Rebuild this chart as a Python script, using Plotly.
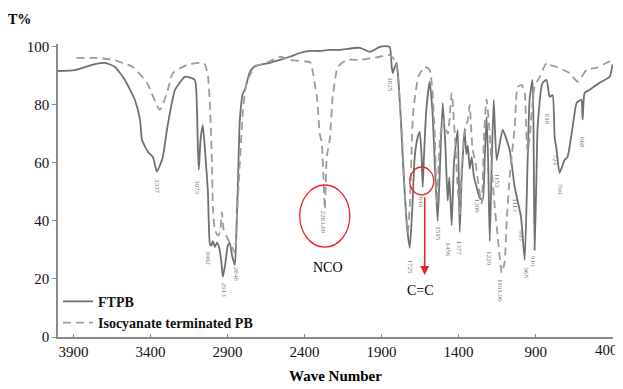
import plotly.graph_objects as go

# ---------------- data (wavenumber cm-1, transmittance %) ----------------
ftpb_wn = [4000, 3890, 3760, 3695, 3630, 3566, 3501, 3468, 3455, 3416, 3384, 3358, 3320, 3293, 3261,
           3241, 3176, 3112, 3099, 3092, 3086, 3075, 3060, 3040, 3027, 3014, 3005, 2995, 2982, 2969,
           2955, 2940, 2930, 2915, 2898, 2885, 2870, 2852, 2840, 2833, 2820, 2800, 2787, 2755, 2722,
           2690, 2625, 2560, 2495, 2431, 2366, 2301, 2236, 2171, 2042, 1977, 1912, 1879, 1847, 1834,
           1827, 1815, 1802, 1790, 1775, 1763, 1750, 1735, 1717, 1700, 1685, 1665, 1652, 1640, 1633,
           1625, 1610, 1588, 1570, 1555, 1536, 1520, 1503, 1485, 1471, 1460, 1445, 1430, 1406, 1393,
           1380, 1361, 1350, 1340, 1328, 1315, 1300, 1283, 1263, 1244, 1230, 1218, 1208, 1198, 1185,
           1172, 1153, 1114, 1069, 1036, 995, 971, 952, 939, 920, 912, 907, 895, 887, 855,
           829, 809, 790, 777, 764, 745, 712, 693, 660, 634, 610, 602, 595, 582, 550,
           486, 420, 401]
ftpb_t = [91.7, 92.0, 94.1, 94.5, 93.1, 88.6, 81.7, 75.0, 68.0, 63.8, 62.0, 57.0, 62.0, 71.4, 80.7,
          85.2, 89.7, 88.6, 80.0, 65.0, 57.6, 68.0, 73.0, 60.0, 50.0, 32.0, 31.5, 33.0, 31.0, 32.5,
          31.0, 26.0, 20.7, 25.0, 31.5, 32.4, 28.0, 24.8, 40.0, 51.7, 74.8, 84.0, 85.2, 91.4, 93.4,
          93.8, 94.5, 95.5, 96.6, 97.9, 98.6, 98.6, 99.0, 99.0, 99.7, 98.3, 100.0, 100.3, 100.0, 93.0,
          91.0, 93.0, 94.5, 88.0, 75.0, 62.0, 50.0, 38.0, 30.7, 45.0, 62.0, 69.0, 70.7, 62.0, 51.7,
          62.0, 78.0, 88.0, 78.0, 60.0, 40.0, 60.0, 80.7, 65.0, 47.0, 55.0, 38.5, 60.0, 71.4, 36.2,
          55.0, 71.8, 63.0, 66.0, 58.0, 62.0, 55.0, 51.7, 48.0, 47.2, 62.0, 75.9, 60.0, 33.0, 60.0,
          81.7, 61.0, 71.4, 64.5, 51.7, 41.4, 26.5, 61.0, 82.0, 88.6, 60.0, 30.0, 55.0, 72.4, 87.6,
          88.6, 82.8, 83.4, 69.0, 64.5, 56.6, 61.0, 62.1, 72.4, 80.7, 81.7, 81.7, 75.0, 84.1, 85.2,
          87.6, 89.7, 94.0]

iso_wn = [3880, 3760, 3630, 3600, 3514, 3423, 3339, 3293, 3254, 3163, 3079, 3047, 3027, 3014, 3001,
          2995, 2982, 2962, 2949, 2936, 2925, 2900, 2870, 2852, 2840, 2820, 2800, 2787, 2774, 2722,
          2625, 2560, 2495, 2400, 2366, 2353, 2320, 2301, 2288, 2268, 2256, 2236, 2217, 2184, 2126,
          2042, 1912, 1847, 1815, 1800, 1782, 1763, 1750, 1730, 1717, 1698, 1690, 1660, 1620, 1588,
          1570, 1555, 1540, 1525, 1503, 1470, 1445, 1425, 1410, 1393, 1380, 1361, 1340, 1328, 1310,
          1290, 1270, 1250, 1235, 1218, 1198, 1185, 1166, 1147, 1134, 1120, 1101, 1088, 1069, 1036,
          1017, 991, 971, 958, 952, 939, 907, 874, 829, 809, 764, 680, 627, 569, 505,
          440, 401]
iso_t = [96.2, 96.2, 95.5, 94.8, 93.1, 87.6, 78.3, 84.1, 91.0, 93.8, 94.5, 94.0, 90.0, 80.0, 60.0,
         45.0, 37.0, 35.0, 36.0, 43.0, 37.0, 34.0, 31.0, 29.0, 40.0, 60.0, 78.0, 84.1, 88.0, 93.1,
         95.0, 96.6, 95.5, 95.0, 94.8, 93.1, 82.8, 70.0, 66.9, 44.0, 62.0, 68.0, 82.8, 93.1, 95.5,
         95.5, 96.6, 97.2, 95.5, 93.0, 81.7, 65.0, 50.0, 36.0, 45.0, 75.0, 80.0, 90.0, 93.1, 92.1,
         85.0, 70.0, 46.0, 65.0, 75.0, 70.0, 84.1, 70.0, 55.0, 42.0, 58.0, 70.0, 75.0, 80.0, 65.0,
         60.0, 52.0, 46.0, 70.0, 82.0, 70.0, 58.0, 45.0, 35.0, 28.0, 22.1, 26.0, 40.0, 55.0, 72.4,
         86.2, 86.9, 84.1, 67.0, 63.8, 69.0, 86.2, 89.7, 94.5, 93.8, 93.1, 91.0, 88.0, 92.1, 92.8,
         94.5, 95.5]

# peak labels: text, wavenumber, transmittance
peak_text = ["3337", "3073", "3002", "2913", "2846", "2263.88", "1825", "1725", "1640", "1515",
             "1456", "1377", "1306", "1220", "1153", "1113", "1101.96", "995", "965", "910",
             "818", "724", "700", "668"]
peak_wn = [3358, 3099, 3027, 2923, 2845, 2281, 1847, 1717, 1640, 1536,
           1471, 1393, 1283, 1198, 1153, 1036, 1128, 1000, 964, 913,
           829, 777, 745, 595]
peak_t = [51.7, 51.4, 27.0, 16.0, 21.5, 39.5, 86.9, 24.0, 47.0, 35.5,
          30.0, 30.5, 45.0, 27.0, 54.0, 45.5, 16.0, 35.0, 22.0, 26.0,
          75.0, 61.0, 51.0, 67.0]

x_ticks = [3900, 3400, 2900, 2400, 1900, 1400, 900, 400]
x_ticktext = ["3900", "3400", "2900", "2400", "1900", "1400", "900", ""]
y_ticks = [0, 20, 40, 60, 80, 100]

SERIF = "Liberation Serif"

fig = go.Figure()
fig.add_trace(go.Scatter(x=ftpb_wn, y=ftpb_t, mode="lines", name="<b>FTPB</b>",
                         line=dict(color="#707070", width=1.8, shape="spline", smoothing=0.5)))
fig.add_trace(go.Scatter(x=iso_wn, y=iso_t, mode="lines", name="<b>Isocyanate terminated PB</b>",
                         line=dict(color="#9c9c9c", width=1.8, dash="8px,5px", shape="spline", smoothing=0.5)))

for t, xw, yt in zip(peak_text, peak_wn, peak_t):
    fig.add_annotation(x=xw, y=yt, text=t, showarrow=False, textangle=90,
                       font=dict(family=SERIF, size=7, color="#7a7a7a"), xanchor="center", yanchor="middle")

# red markers
fig.add_shape(type="circle", xref="x", yref="y", x0=2431, x1=2106, y0=31.0, y1=52.4,
              line=dict(color="#e8262a", width=1.3))
fig.add_shape(type="circle", xref="x", yref="y", x0=1717, x1=1562, y0=49.0, y1=58.6,
              line=dict(color="#e8262a", width=1.3))
fig.add_annotation(x=1620, y=21.4, ax=1620, ay=48.6, xref="x", yref="y", axref="x", ayref="y",
                   text="", showarrow=True, arrowhead=2, arrowsize=1.2, arrowwidth=1.5, arrowcolor="#e8262a")
fig.add_annotation(x=2250, y=23.8, text="NCO", showarrow=False,
                   font=dict(family=SERIF, size=14, color="black"))
fig.add_annotation(x=1648, y=16.2, text="C=C", showarrow=False,
                   font=dict(family=SERIF, size=14, color="black"))

# last x tick label, kept inside the page edge
fig.add_annotation(x=1.012, y=-0.044, xref="paper", yref="paper", text="400", showarrow=False,
                   xanchor="right", yanchor="middle",
                   font=dict(family=SERIF, size=15, color="#111"))

# axis titles
fig.add_annotation(x=-0.0685, y=1.082, xref="paper", yref="paper", text="<b>T%</b>", showarrow=False,
                   xanchor="center", yanchor="middle",
                   font=dict(family=SERIF, size=14, color="black"))
fig.add_annotation(x=0.50, y=-0.133, xref="paper", yref="paper", text="<b>Wave Number</b>", showarrow=False,
                   xanchor="center", yanchor="middle",
                   font=dict(family=SERIF, size=15, color="black"))

# the page adds an 8px body margin, so the figure is drawn 8px smaller
fig.update_layout(
    width=615, height=381,
    margin=dict(l=50, r=10, t=36, b=52, autoexpand=False),
    paper_bgcolor="white", plot_bgcolor="white",
    showlegend=True,
    legend=dict(x=0.0, y=0.175, xanchor="left", yanchor="top", bgcolor="rgba(0,0,0,0)",
                font=dict(family=SERIF, size=14, color="#111"), tracegroupgap=0, itemwidth=30),
)
fig.update_xaxes(range=[4000, 398], tickvals=x_ticks, ticktext=x_ticktext, automargin=False,
                 showgrid=False, zeroline=False, showline=True, linecolor="#8a8a8a", linewidth=1.5,
                 ticks="inside", ticklen=3, tickcolor="#8a8a8a",
                 tickfont=dict(family=SERIF, size=15, color="#111"))
fig.update_yaxes(range=[0, 101], tickvals=y_ticks, showgrid=False, zeroline=False, showline=True,
                 automargin=False,
                 linecolor="#8a8a8a", linewidth=1.5, ticks="outside", ticklen=4, tickcolor="#8a8a8a",
                 tickfont=dict(family=SERIF, size=15, color="#111"))

fig.write_html("out.html")
